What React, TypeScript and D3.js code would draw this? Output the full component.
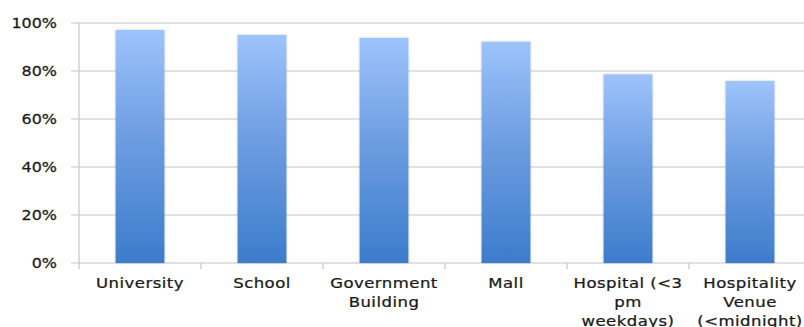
import React from "react";
import * as d3 from "d3";

const categories = [
  ["University"],
  ["School"],
  ["Government", "Building"],
  ["Mall"],
  ["Hospital (<3", "pm", "weekdays)"],
  ["Hospitality", "Venue", "(<midnight)"],
];
const values = [0.971, 0.95, 0.938, 0.922, 0.786, 0.758];
const yTicks = [0, 0.2, 0.4, 0.6, 0.8, 1.0];

export default function App() {
  const W = 804, H = 327;
  const left = 79, right = 811, top = 23, bottom = 263;
  const x = d3.scaleBand<number>().domain(d3.range(categories.length)).range([left, right]).paddingInner(0.6).paddingOuter(0.3);
  const step = (right - left) / categories.length;
  const y = d3.scaleLinear().domain([0, 1]).range([bottom, top]);
  const fmt = d3.format(".0%");
  const font = "'DejaVu Sans', Verdana, sans-serif";
  return (
    <svg width={W} height={H} style={{ position: "absolute", left: 0, top: 0, background: "#fff" }}>
      <defs>
        <linearGradient id="barGrad" x1="0" y1="0" x2="0" y2="1">
          <stop offset="0" stopColor="#9DC3FB" />
          <stop offset="0.45" stopColor="#6E9EE2" />
          <stop offset="1" stopColor="#3C7CCB" />
        </linearGradient>
        <filter id="sh" x="-20%" y="-5%" width="140%" height="110%">
          <feGaussianBlur in="SourceAlpha" stdDeviation="1.2" />
          <feComponentTransfer><feFuncA type="linear" slope="0.25" /></feComponentTransfer>
          <feMerge><feMergeNode /><feMergeNode in="SourceGraphic" /></feMerge>
        </filter>
      </defs>
      {yTicks.map((t) => (
        <g key={t}>
          <line x1={left - 8} x2={W} y1={y(t)} y2={y(t)} stroke="#C4C4C4" strokeWidth={1.2} />
          <text transform={`translate(57,${y(t)}) scale(1.14,1)`} dy="0.36em" textAnchor="end" fontFamily={font} fontSize={14} fill="#1a1a1a" stroke="#1a1a1a" strokeWidth={0.25}>{fmt(t)}</text>
        </g>
      ))}
      <line x1={left} x2={left} y1={top} y2={bottom + 1} stroke="#C4C4C4" strokeWidth={1.2} />
      {d3.range(categories.length + 1).map((i) => (
        <line key={i} x1={left + i * step} x2={left + i * step} y1={bottom} y2={bottom + 6} stroke="#C4C4C4" strokeWidth={1.2} />
      ))}
      {values.map((v, i) => (
        <rect key={i} x={x(i)} y={y(v)} width={x.bandwidth()} height={bottom - y(v)} fill="url(#barGrad)" filter="url(#sh)" />
      ))}
      {categories.map((lines, i) => (
        <text key={i} transform={`translate(${(x(i) as number) + x.bandwidth() / 2},0) scale(1.18,1)`} textAnchor="middle" fontFamily={font} fontSize={14} letterSpacing={0.4} fill="#1a1a1a" stroke="#1a1a1a" strokeWidth={0.25}>
          {lines.map((l, j) => (
            <tspan key={j} x={0} y={288 + j * 19}>{l}</tspan>
          ))}
        </text>
      ))}
    </svg>
  );
}
